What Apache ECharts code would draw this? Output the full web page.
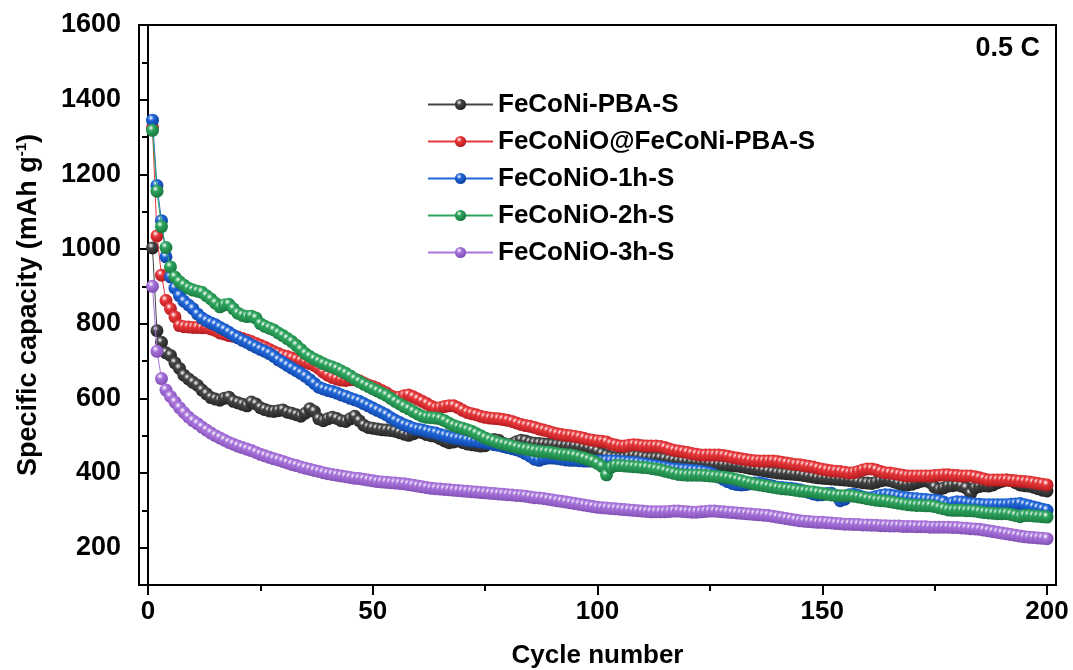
<!DOCTYPE html>
<html>
<head>
<meta charset="utf-8">
<script src="https://cdn.jsdelivr.net/npm/echarts@6/dist/echarts.min.js"></script>
<style>html,body{margin:0;padding:0;background:#fff;}#c{width:1073px;height:670px;}</style>
</head>
<body>
<div id="c"></div>
<script>
const seriesNames = ['FeCoNi-PBA-S','FeCoNiO@FeCoNi-PBA-S','FeCoNiO-1h-S','FeCoNiO-2h-S','FeCoNiO-3h-S'];
const xTicks = [0,50,100,150,200];
const xMinorTicks = [25,75,125,175];
const yTicks = [200,400,600,800,1000,1200,1400,1600];
const yMinorTicks = [300,500,700,900,1100,1300,1500];

const pbaS = [1003,781,750,722,715,695,680,662,652,643,635,622,612,602,598,595,600,603,592,588,
584,580,590,585,575,570,566,565,567,569,563,560,556,552,560,572,565,545,540,545,
549,546,540,538,545,552,540,528,522,520,518,516,515,514,512,508,504,501,505,510,
508,503,500,498,492,486,481,483,486,482,478,476,474,472,473,480,490,488,480,476,
478,484,488,486,482,480,479,478,477,476,475,474,473,472,472,470,468,466,462,458,
452,447,443,441,440,441,444,446,445,443,441,440,440,440,438,436,434,432,431,430,
429,428,427,426,424,423,422,421,420,420,419,417,415,412,410,408,406,404,402,400,
399,398,397,396,395,393,391,389,387,386,385,384,383,382,381,380,378,376,374,373,
372,375,379,381,380,376,372,369,368,370,374,378,379,375,362,356,360,365,366,368,
365,360,345,360,364,366,365,368,374,378,381,380,374,368,366,365,362,358,354,352];

const oPbaS = [1325,1035,930,862,840,818,795,792,791,790,790,789,789,786,782,775,772,768,766,764,
760,756,752,747,742,737,731,725,720,715,712,708,704,700,697,693,688,680,670,662,
656,652,649,648,650,650,647,641,636,632,627,621,615,607,602,603,607,609,604,598,
592,586,579,574,575,578,580,580,575,568,562,559,556,552,549,547,546,545,543,541,
538,534,530,527,525,522,518,515,512,508,505,503,501,500,498,496,493,490,488,486,
485,483,478,475,472,472,474,476,475,473,472,472,472,471,468,464,461,459,457,455,
452,450,448,448,448,448,448,447,445,442,440,438,436,434,433,432,432,432,432,431,
429,427,425,423,422,420,418,416,413,410,408,406,405,404,402,400,401,404,408,411,
411,408,404,401,400,398,396,394,392,392,392,392,392,392,393,394,395,395,394,393,
392,392,392,390,387,384,381,381,381,381,381,380,379,378,377,376,374,372,370,368];

const o1hS = [1345,1170,1076,979,925,895,875,860,850,840,826,815,808,802,797,790,784,777,769,762,
755,750,743,737,731,726,720,712,703,696,688,681,674,667,659,650,640,630,625,621,
618,614,609,605,600,596,592,586,580,574,568,562,556,548,541,535,529,525,520,517,
515,512,509,507,503,500,497,494,492,490,488,486,485,483,481,479,476,474,471,468,
465,462,458,452,445,437,434,438,440,440,439,437,435,434,434,433,432,432,432,432,
432,432,432,432,431,430,429,428,427,425,423,421,419,417,415,413,411,410,409,408,
407,406,405,403,400,395,389,383,377,372,369,368,369,371,373,373,371,368,365,362,
361,360,359,357,355,352,348,344,341,342,345,346,340,326,330,342,343,340,336,333,
334,337,340,342,341,339,337,335,333,332,331,330,329,328,327,326,322,315,320,323,
322,320,318,317,316,315,315,315,315,315,315,316,317,318,315,312,309,306,303,300];

const o2hS = [1318,1155,1060,1004,952,925,912,903,895,890,887,884,875,866,855,845,850,852,840,828,
822,819,820,815,800,793,788,783,775,768,760,752,742,731,720,712,705,699,693,688,
684,679,673,667,660,652,645,638,632,626,620,614,608,600,592,585,578,572,565,558,
552,549,548,547,545,540,533,527,523,520,516,512,506,500,494,489,485,481,478,475,
472,469,466,464,462,460,458,457,456,454,452,450,449,448,446,443,440,436,432,426,
418,395,415,420,420,419,418,417,416,415,414,412,410,408,405,402,399,396,395,394,
394,394,394,393,392,391,390,389,387,385,382,379,376,373,370,368,366,364,362,360,
358,357,356,354,352,351,350,349,347,345,343,341,340,339,339,339,338,336,334,331,
329,327,326,325,323,321,319,317,315,314,313,313,312,312,310,307,304,301,300,300,
300,299,299,298,296,294,293,292,291,291,291,289,286,283,286,286,285,284,283,282];

const o3hS = [900,726,653,622,605,590,575,562,550,540,532,523,515,507,500,494,488,482,477,472,
468,464,460,455,450,446,442,438,435,431,427,423,420,416,413,410,407,404,401,398,
396,394,392,390,388,386,385,383,381,379,377,376,375,374,373,372,371,369,367,365,
363,361,359,358,357,356,355,354,353,352,351,350,349,348,347,346,345,344,343,342,
341,340,339,338,336,334,333,332,330,328,326,324,322,320,318,316,314,312,310,308,
307,306,305,304,303,302,301,300,299,298,297,296,296,296,296,297,298,298,297,296,
295,295,296,297,298,298,297,296,295,294,293,292,291,290,289,288,287,286,284,282,
280,278,276,274,272,271,270,269,268,268,267,266,265,264,263,263,262,262,261,261,
260,260,259,259,258,258,258,257,257,257,256,256,256,255,255,255,255,255,254,254,
253,252,251,250,249,247,245,243,241,239,237,235,233,231,229,228,227,226,225,224];

const seriesValues = [pbaS, oPbaS, o1hS, o2hS, o3hS];
const colors = ['#444444','#e8383b','#1f66d9','#2ea55e','#a874dc'];
const darks = ['#1e1e1e','#a81418','#0c3c95','#15703a','#7a48ad'];

const FONT = 'Liberation Sans';

function ball(c, d) {
  return {type:'radial', x:0.38, y:0.32, r:0.75,
    colorStops:[{offset:0,color:'#ffffff'},{offset:0.3,color:c},{offset:1,color:d}]};
}

const series = seriesValues.map((vals, k) => ({
  name: seriesNames[k],
  type: 'line',
  xAxisIndex: 0, yAxisIndex: 0,
  data: vals.map((v, i) => [i + 1, v]),
  symbol: 'circle',
  symbolSize: 13,
  showAllSymbol: true,
  lineStyle: {color: colors[k], width: 1},
  itemStyle: {color: ball(colors[k], darks[k]), borderWidth: 0},
  emphasis: {disabled: true},
  z: 2 + k
}));

const chart = echarts.init(document.getElementById('c'), null, {renderer: 'canvas'});
chart.setOption({
  animation: false,
  backgroundColor: '#fff',
  grid: {left: 139, right: 17, top: 25, bottom: 85, containLabel: false, outerBoundsMode: 'none',
    show: true, borderColor: '#000', borderWidth: 2, backgroundColor: 'transparent'},
  legend: {
    orient: 'vertical', left: 422, top: 86,
    itemWidth: 65, itemHeight: 14, itemGap: 10,
    textStyle: {fontFamily: FONT, fontWeight: 'bold', fontSize: 26, color: '#000', lineHeight: 27},
    data: seriesNames
  },
  xAxis: [{
    type: 'value', min: -2, max: 202,
    axisLine: {show: true, lineStyle: {color: '#000', width: 2}},
    axisTick: {show: true, customValues: xTicks, length: 10, inside: false, lineStyle: {color: '#000', width: 2}},
    axisLabel: {customValues: xTicks, margin: 14, fontFamily: FONT, fontWeight: 'bold', fontSize: 26, color: '#000'},
    splitLine: {show: false},
    name: 'Cycle number', nameLocation: 'middle', nameGap: 58,
    nameTextStyle: {fontFamily: FONT, fontWeight: 'bold', fontSize: 26, color: '#000'}
  }, {
    type: 'value', min: -2, max: 202, position: 'bottom',
    axisLine: {show: false},
    axisTick: {show: true, customValues: xMinorTicks, length: 6, lineStyle: {color: '#000', width: 2}},
    axisLabel: {show: false},
    splitLine: {show: false}
  }],
  yAxis: [{
    type: 'value', min: 100, max: 1600,
    axisLine: {show: true, lineStyle: {color: '#000', width: 2}},
    axisTick: {show: true, customValues: yTicks, length: 10, lineStyle: {color: '#000', width: 2}},
    axisLabel: {customValues: yTicks, margin: 18, fontFamily: FONT, fontWeight: 'bold', fontSize: 27, color: '#000',
      formatter: (v) => String(v)},
    splitLine: {show: false},
    name: '{a|Specific capacity (mAh g}{s|-1}{a|)}', nameLocation: 'middle', nameGap: 95,
    nameTextStyle: {
      rich: {
        a: {fontFamily: FONT, fontWeight: 'bold', fontSize: 27, color: '#000', lineHeight: 30},
        s: {fontFamily: FONT, fontWeight: 'bold', fontSize: 15, color: '#000', verticalAlign: 'top', lineHeight: 30, padding: [0, 0, 12, 0]}
      }
    }
  }, {
    type: 'value', min: 100, max: 1600, position: 'left',
    axisLine: {show: false},
    axisTick: {show: true, customValues: yMinorTicks, length: 6, lineStyle: {color: '#000', width: 2}},
    axisLabel: {show: false},
    splitLine: {show: false}
  }],
  graphic: [{
    type: 'text', right: 33, top: 35,
    style: {text: '0.5 C', font: 'bold 27px "Liberation Sans"', fill: '#000'}
  }],
  series: series
});
</script>
</body>
</html>
